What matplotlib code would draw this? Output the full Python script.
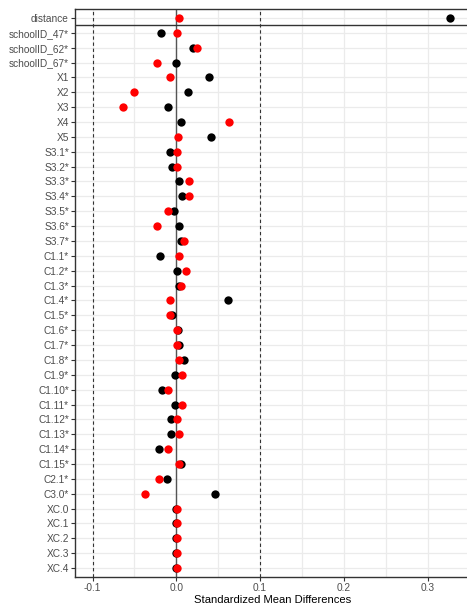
import matplotlib
matplotlib.use("Agg")
import matplotlib.pyplot as plt
import numpy as np

plt.rcParams['font.family'] = ['Liberation Sans', 'DejaVu Sans']

variables = ["distance", "schoolID_47*", "schoolID_62*", "schoolID_67*",
             "X1", "X2", "X3", "X4", "X5",
             "S3.1*", "S3.2*", "S3.3*", "S3.4*", "S3.5*", "S3.6*", "S3.7*",
             "C1.1*", "C1.2*", "C1.3*", "C1.4*", "C1.5*", "C1.6*", "C1.7*", "C1.8*",
             "C1.9*", "C1.10*", "C1.11*", "C1.12*", "C1.13*", "C1.14*", "C1.15*",
             "C2.1*", "C3.0*", "XC.0", "XC.1", "XC.2", "XC.3", "XC.4"]

unadjusted = [0.3266, -0.0183, 0.0194, -0.0004,
              0.0385, 0.0135, -0.0099, 0.0052, 0.0413,
              -0.0075, -0.0056, 0.0032, 0.0071, -0.0024, 0.0032, 0.0056,
              -0.0190, 0.0004, 0.0032, 0.0619, -0.0056, 0.0016, 0.0036, 0.0095,
              -0.0020, -0.0167, -0.0020, -0.0063, -0.0063, -0.0202, 0.0056,
              -0.0107, 0.0460, 0.0, 0.0, 0.0, 0.0, 0.0]

adjusted = [0.0032, 0.0004, 0.0246, -0.0230,
            -0.0071, -0.0500, -0.0631, 0.0627, 0.0024,
            0.0004, 0.0004, 0.0147, 0.0147, -0.0099, -0.0230, 0.0087,
            0.0032, 0.0119, 0.0056, -0.0071, -0.0071, 0.0004, 0.0004, 0.0032,
            0.0063, -0.0095, 0.0063, 0.0004, 0.0032, -0.0095, 0.0032,
            -0.0210, -0.0369, 0.0004, 0.0004, 0.0004, 0.0004, 0.0004]

threshold = 0.1
xticks = [-0.1, 0.0, 0.1, 0.2, 0.3]
xtick_labels = ["-0.1", "0.0", "0.1", "0.2", "0.3"]

W, H = 467, 609
fig = plt.figure(figsize=(W / 100, H / 100), dpi=100)
left_px, right_px, top_px, bot_px = 75.3, 470, 9, 577
ax = fig.add_axes([left_px / W, 1 - bot_px / H, (right_px - left_px) / W, (bot_px - top_px) / H])

n = len(variables)
ypos = np.arange(n)[::-1]  # distance at top

px_per_unit = 838.0
x0_px = 176.3
ax.set_xlim((left_px - x0_px) / px_per_unit, (right_px - x0_px) / px_per_unit)
ax.set_ylim(-0.6, n - 1 + 0.6)

# grid
for x in np.arange(-0.1, 0.35, 0.05):
    ax.axvline(x, color="#ebebeb", lw=0.9, zorder=0)
for y in ypos:
    ax.axhline(y, color="#ebebeb", lw=0.9, zorder=0)

ax.axvline(0, color="#555555", lw=1.0, zorder=1)
for t in (-threshold, threshold):
    ax.axvline(t, color="#333333", lw=0.8, ls=(0, (3, 2.5)), zorder=1)

# separator line below distance
ax.axhline(n - 1 - 0.45, color="#333333", lw=1.0, zorder=1)

ax.scatter(unadjusted, ypos, s=36, color="black", zorder=3, linewidths=0)
ax.scatter(adjusted, ypos, s=36, color="#ff0000", zorder=4, linewidths=0)

ax.set_yticks(ypos)
ax.set_yticklabels(variables)
ax.set_xticks(xticks)
ax.set_xticklabels(xtick_labels)
ax.tick_params(axis="both", colors="#333333", labelcolor="#4d4d4d", labelsize=7.3,
               length=2.75, width=0.8, pad=1.8)
ax.set_xlabel("Standardized Mean Differences", fontsize=8.1, color="black", labelpad=1.5)

for side in ("left", "bottom", "top"):
    ax.spines[side].set_color("#333333")
    ax.spines[side].set_linewidth(1.0)
ax.spines["right"].set_visible(False)

fig.savefig("out.png", dpi=100)
